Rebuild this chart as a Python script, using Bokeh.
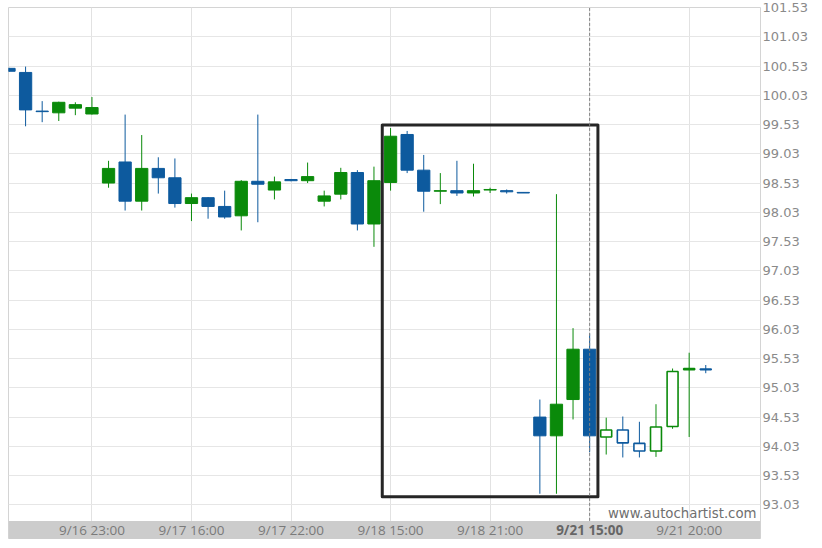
from bokeh.plotting import figure
from bokeh.models import (ColumnDataSource, FixedTicker, Range1d, NumeralTickFormatter,
                          BoxAnnotation)
from bokeh.core.properties import value
from bokeh.embed import file_html
from bokeh.resources import INLINE

# ---------------- data ----------------
time_labels = ["9/16 23:00", "9/17 16:00", "9/17 22:00", "9/18 15:00",
               "9/18 21:00", "9/21 15:00", "9/21 20:00"]
label_bars = [5, 11, 17, 23, 29, 35, 41]
current_bar = 35
forecast_start = 36

opens = [100.49, 100.42, 99.76, 99.73, 99.81, 99.71, 98.53, 98.89, 98.22, 98.78,
         98.62, 98.18, 98.28, 98.13, 97.97, 98.56, 98.41, 98.59, 98.57, 98.22,
         98.34, 98.71, 97.83, 98.54, 99.36, 98.75, 98.39, 98.40, 98.36, 98.41,
         98.40, 98.37, 94.53, 94.21, 94.83, 95.69, 94.19, 94.31, 94.08, 93.95,
         94.37, 95.34, 95.35]
highs = [100.50, 100.52, 99.93, 99.92, 99.91, 100.00, 98.91, 99.70, 99.35, 98.97,
         98.95, 98.35, 98.29, 98.40, 98.58, 99.70, 98.64, 98.60, 98.88, 98.40,
         98.79, 98.75, 98.81, 99.47, 99.42, 99.01, 98.70, 98.91, 98.86, 98.45,
         98.42, 98.37, 94.83, 98.34, 96.05, 95.96, 94.52, 94.54, 94.45, 94.75,
         95.36, 95.63, 95.42]
lows = [100.43, 99.50, 99.57, 99.59, 99.69, 99.70, 98.45, 98.06, 98.06, 98.35,
        98.11, 97.88, 97.92, 97.92, 97.72, 97.86, 98.25, 98.56, 98.53, 98.13,
        98.25, 97.72, 97.44, 98.40, 98.70, 98.04, 98.17, 98.31, 98.30, 98.36,
        98.35, 98.36, 93.22, 93.22, 94.49, 93.93, 93.89, 93.84, 93.84, 93.85,
        94.33, 94.19, 95.28]
closes = [100.44, 99.78, 99.75, 99.91, 99.87, 99.82, 98.78, 98.22, 98.78, 98.62,
          98.18, 98.28, 98.13, 97.95, 98.56, 98.51, 98.55, 98.57, 98.64, 98.31,
          98.71, 97.83, 98.57, 99.33, 98.75, 98.39, 98.40, 98.36, 98.40, 98.42,
          98.38, 98.36, 94.21, 94.75, 95.69, 94.21, 94.31, 94.09, 93.95, 94.36,
          95.31, 95.36, 95.34]

price_ticks = [101.53, 101.03, 100.53, 100.03, 99.53, 99.03, 98.53, 98.03, 97.53,
               97.03, 96.53, 96.03, 95.53, 95.03, 94.53, 94.03, 93.53, 93.03]

box_left, box_right = 22.5, 35.5
box_top, box_bottom = 99.52, 93.17

watermark = "www.autochartist.com"

# ---------------- layout / styling ----------------
GREEN = "#0a8a0a"
BLUE = "#0d5a9e"
Y_MAX = 101.53
BAND_TOP = 92.756      # bottom of the price area = top of the time band
Y_MIN = 92.438         # bottom of the time band
BAND_MID = 92.597
X_MIN, X_MAX = -0.03, 45.3

idx = list(range(len(opens)))
colors = [GREEN if c >= o else BLUE for o, c in zip(opens, closes)]
tops = [max(o, c) for o, c in zip(opens, closes)]
bottoms = [min(o, c) for o, c in zip(opens, closes)]

solid = [i for i in idx if i < forecast_start]
hollow = [i for i in idx if i >= forecast_start]

def sub(ids):
    return ColumnDataSource(dict(
        x=[idx[i] for i in ids], top=[tops[i] for i in ids], bottom=[bottoms[i] for i in ids],
        high=[highs[i] for i in ids], low=[lows[i] for i in ids], color=[colors[i] for i in ids]))

src_all = sub(idx)
src_solid = sub(solid)
src_hollow = sub(hollow)

p = figure(frame_width=752, frame_height=532,
           x_range=Range1d(X_MIN, X_MAX), y_range=Range1d(Y_MIN, Y_MAX),
           y_axis_location="right", x_axis_location=None,
           output_backend="svg", toolbar_location=None,
           min_border_left=8, min_border_top=7, min_border_bottom=0, min_border_right=0,
           background_fill_color="white", border_fill_color="white",
           outline_line_color="#d4d4d4")

# price axis (right)
p.yaxis.ticker = FixedTicker(ticks=price_ticks)
p.yaxis.formatter = NumeralTickFormatter(format="0.00")
p.yaxis.axis_line_color = None
p.yaxis.major_tick_line_color = None
p.yaxis.minor_tick_line_color = None
p.yaxis.major_tick_out = 0
p.yaxis.major_tick_in = 0
p.yaxis.minor_tick_out = 0
p.yaxis.major_label_standoff = 2
p.yaxis.major_label_text_font = "DejaVu Sans"
p.yaxis.major_label_text_font_size = "13px"
p.yaxis.major_label_text_color = "#8a8a8a"

p.xgrid.ticker = FixedTicker(ticks=label_bars)
p.xgrid.grid_line_color = "#e2e2e2"
p.ygrid.grid_line_color = "#e6e6e6"

# time band (covers grid lines below the price area)
p.add_layout(BoxAnnotation(top=BAND_TOP, fill_color="#cccccc", fill_alpha=1.0,
                           line_color=None, level="underlay"))

# candles
p.segment(x0="x", y0="low", x1="x", y1="high", line_color="color", line_width=1, source=src_all)
p.vbar(x="x", top="top", bottom="bottom", width=0.74, fill_color="color",
       line_color="color", line_width=1, source=src_solid)
p.vbar(x="x", top="top", bottom="bottom", width=0.66, fill_color="white",
       line_color="color", line_width=1.6, source=src_hollow)

# pattern box
p.quad(left=[box_left], right=[box_right], top=[box_top], bottom=[box_bottom],
       fill_color=None, line_color="#262626", line_width=3, line_join="round")

# current bar dashed line (stops at the time band)
p.segment(x0=[current_bar], y0=[BAND_TOP], x1=[current_bar], y1=[Y_MAX],
          line_color="#808080", line_width=1, line_dash="3 2")

# time labels
normal = [(b, t) for b, t in zip(label_bars, time_labels) if b != current_bar]
p.text(x=[b for b, _ in normal], y=[BAND_MID] * len(normal), text=[t for _, t in normal],
       text_align="center", text_baseline="middle", text_font=value("Open Sans"),
       text_font_size="13.5px", text_color="#7a7a7a")
p.text(x=[current_bar], y=[BAND_MID], text=[time_labels[label_bars.index(current_bar)]],
       text_align="center", text_baseline="middle", text_font=value("Open Sans"),
       text_font_size="13.5px", text_font_style="bold", text_color="#666666")

# watermark
p.text(x=[45.06], y=[92.876], text=[watermark], text_align="right",
       text_baseline="middle", text_font=value("DejaVu Sans"),
       text_font_size="13.3px", text_color="#6f6f6f")

open("out.html", "w").write(file_html(p, INLINE))
